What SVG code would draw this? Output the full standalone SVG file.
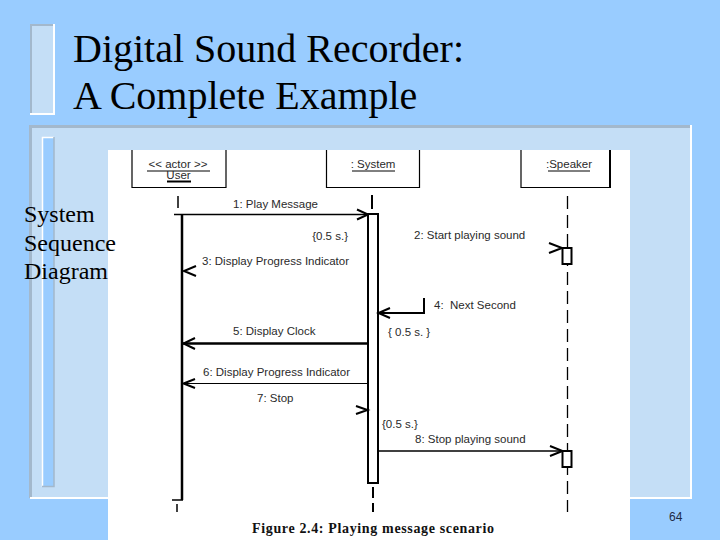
<svg xmlns="http://www.w3.org/2000/svg" width="720" height="540" viewBox="0 0 720 540">
<defs>
<style>
.ttl{font-family:"Liberation Serif","Times New Roman",Times,serif;font-size:40px;fill:#000}
.side{font-family:"Liberation Serif","Times New Roman",Times,serif;font-size:24px;fill:#000}
.lbl{font-family:"Liberation Sans",Arial,sans-serif;font-size:11.5px;fill:#2a2a2a;white-space:pre}
.hd{font-family:"Liberation Sans",Arial,sans-serif;font-size:11.5px;fill:#2a2a2a;text-anchor:middle}
.cap{font-family:"Liberation Serif","Times New Roman",Times,serif;font-size:14px;font-weight:bold;fill:#111}
.pg{font-family:"Liberation Sans",Arial,sans-serif;font-size:12px;fill:#1f2a44}
.ln{stroke:#000;fill:none}
.act{stroke:#000;fill:#fff;stroke-width:2}
.ah{stroke:#000;fill:none;stroke-width:2;stroke-linejoin:miter}
.gray{stroke:#a3b8cc;fill:none}
.white{stroke:#fff;fill:none}
</style>
</defs>
<rect x="0" y="0" width="720" height="540" fill="#99ccff"/>
<!-- title bar decoration -->
<rect x="30" y="24" width="24" height="90" fill="#c4def6"/>
<path class="gray" stroke-width="2" d="M31,114 V25 H54"/>
<path class="white" stroke-width="2" d="M54,24 V114 H30"/>
<!-- panel -->
<rect x="30" y="125" width="661" height="373" fill="#c4def6"/>
<path class="gray" stroke-width="3" d="M30.5,498 V126.5 H691"/>
<path class="white" stroke-width="2" d="M691,125 V498 H30"/>
<rect x="42" y="137" width="12" height="350" fill="#99ccff"/>
<path class="white" stroke-width="1.5" d="M42.5,487 V137.5 H54"/>
<path class="gray" stroke-width="1.5" d="M54,137 V486.5 H42"/>
<text class="ttl" x="73" y="62" font-family="Liberation Serif, serif">Digital Sound Recorder:</text>
<text class="ttl" x="73" y="109" font-family="Liberation Serif, serif">A Complete Example</text>
<text class="pg" x="669" y="521">64</text>
<!-- figure -->
<rect x="108" y="150" width="522" height="390" fill="#fff"/>
<text class="side" x="24" y="222">System</text>
<text class="side" x="24" y="251">Sequence</text>
<text class="side" x="24" y="279">Diagram</text>
<g id="user">
<path class="ln" stroke-width="1.2" d="M132,150 V187.5 H226 V150"/>
<text class="hd" x="178" y="168">&lt;&lt; actor &gt;&gt;</text>
<line class="ln" x1="147" y1="171" x2="210" y2="171" stroke-width="1"/>
<text class="hd" x="178.5" y="179">User</text>
<line class="ln" x1="167" y1="181.5" x2="191" y2="181.5" stroke-width="2"/>
<line class="ln" x1="178" y1="196" x2="178" y2="208" stroke-width="1.5"/>
<line class="ln" x1="182" y1="215" x2="182" y2="500" stroke-width="2.5"/>
<line class="ln" x1="172" y1="500" x2="183" y2="500" stroke-width="1.5"/>
<line class="ln" x1="177" y1="504" x2="177" y2="512" stroke-width="1.5"/>
</g>
<g id="system">
<path class="ln" stroke-width="1.2" d="M326.5,150 V187.5 H419.5 V150"/>
<text class="hd" x="373" y="168">: System</text>
<line class="ln" x1="352" y1="171" x2="395" y2="171" stroke-width="1"/>
<line class="ln" x1="372" y1="195" x2="372" y2="209" stroke-width="2"/>
<rect class="act" x="368" y="214" width="10" height="269"/>
<line class="ln" x1="373" y1="487" x2="373" y2="498" stroke-width="2"/>
<line class="ln" x1="373" y1="503" x2="373" y2="512" stroke-width="2"/>
</g>
<g id="speaker">
<path class="ln" stroke-width="1.2" d="M521,150 V187.5 H610"/>
<line class="ln" x1="610" y1="150" x2="610" y2="188" stroke-width="2"/>
<text class="hd" x="569" y="168">:Speaker</text>
<line class="ln" x1="548" y1="171" x2="590" y2="171" stroke-width="1"/>
<line class="ln" x1="567.5" y1="196" x2="567.5" y2="512" stroke-width="1.3" stroke-dasharray="13 6"/>
<rect class="act" x="562.5" y="248" width="9" height="16" stroke-width="1.5"/>
<line class="ln" x1="562" y1="264" x2="572" y2="264" stroke-width="2"/>
<rect class="act" x="562.5" y="451" width="9" height="16" stroke-width="1.5"/>
<line class="ln" x1="562" y1="467" x2="572" y2="467" stroke-width="2"/>
</g>
<g id="connectors">
<line class="ln" x1="174" y1="214.5" x2="367" y2="214.5" stroke-width="1.5"/>
<polyline class="ah" points="357,209.5 368,214.5 357,219.5"/>
<polyline class="ah" points="549,243 562,248 549,253"/>
<polyline class="ah" points="196,266 184,271 196,276"/>
<path class="ln" stroke-width="2" d="M424,298 V313 H379"/>
<polyline class="ah" points="390,308 378.5,313 390,318"/>
<line class="ln" x1="183" y1="343.5" x2="368" y2="343.5" stroke-width="2.5"/>
<polyline class="ah" points="195,338 183.5,343.5 195,349"/>
<line class="ln" x1="183" y1="383.5" x2="368" y2="383.5" stroke-width="1"/>
<polyline class="ah" points="195,379 183.5,383.5 195,388"/>
<polyline class="ah" points="356,406 367.5,410 356,414"/>
<line class="ln" x1="379" y1="451" x2="562" y2="451" stroke-width="1.5"/>
<polyline class="ah" points="550,446 562.5,451 550,456"/>
</g>
<g id="labels">
<text class="lbl" x="233" y="208">1: Play Message</text>
<text class="lbl" x="348" y="240" text-anchor="end">{0.5 s.}</text>
<text class="lbl" x="414" y="239">2: Start playing sound</text>
<text class="lbl" x="202" y="265">3: Display Progress Indicator</text>
<text class="lbl" x="434" y="309">4:  Next Second</text>
<text class="lbl" x="388" y="336">{ 0.5 s. }</text>
<text class="lbl" x="233" y="335">5: Display Clock</text>
<text class="lbl" x="203" y="376">6: Display Progress Indicator</text>
<text class="lbl" x="257" y="402">7: Stop</text>
<text class="lbl" x="382" y="428">{0.5 s.}</text>
<text class="lbl" x="415" y="443">8: Stop playing sound</text>
</g>
<text class="cap" x="252" y="533" textLength="242" lengthAdjust="spacing">Figure 2.4: Playing message scenario</text>
</svg>
